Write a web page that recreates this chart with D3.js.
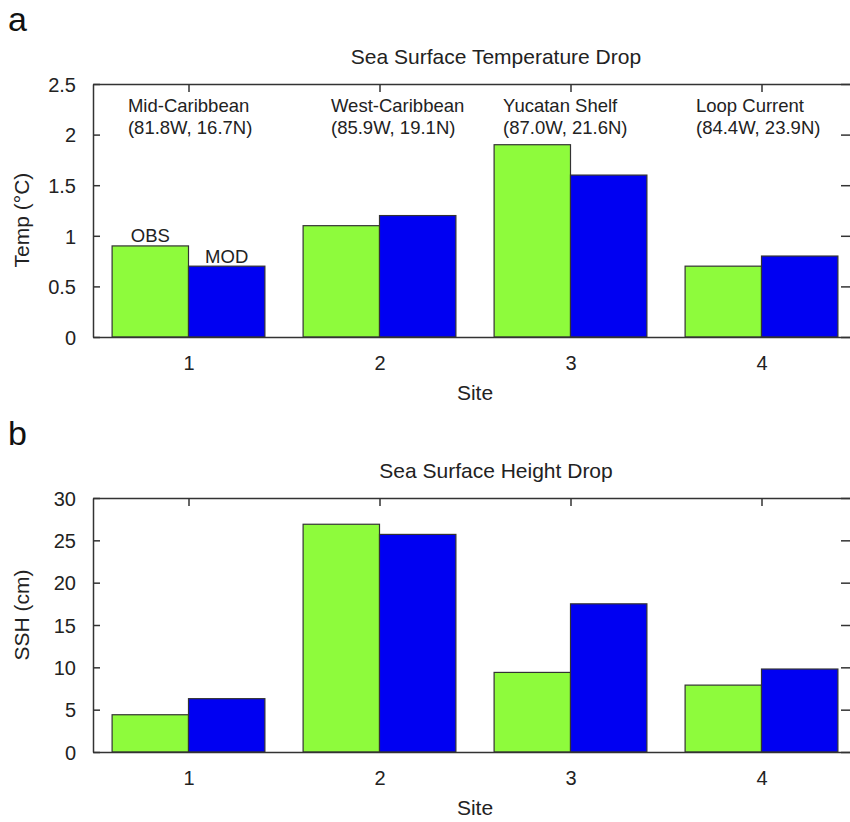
<!DOCTYPE html>
<html>
<head>
<meta charset="utf-8">
<script src="https://cdn.jsdelivr.net/npm/d3@7"></script>
<style>
  body { margin: 0; background: #fff; }
  svg { font-family: "Liberation Sans", Arial, Helvetica, sans-serif; }
  .axis path, .axis line { stroke: #333; stroke-width: 1.5; }
  .axis text { font-size: 20px; fill: #222; }
  .bar { stroke: #333; stroke-width: 1.2; }
</style>
</head>
<body>
<div id="chart"></div>
<script>
// sites on the x axis
let sites = [1, 2, 3, 4];
let siteNames = ["Mid-Caribbean", "West-Caribbean", "Yucatan Shelf", "Loop Current"];
let siteCoords = ["(81.8W, 16.7N)", "(85.9W, 19.1N)", "(87.0W, 21.6N)", "(84.4W, 23.9N)"];

// panel a: sea surface temperature drop (deg C)
let tempObs = [0.9, 1.1, 1.9, 0.7];
let tempMod = [0.7, 1.2, 1.6, 0.8];
let tempTicks = [0, 0.5, 1, 1.5, 2, 2.5];

// panel b: sea surface height drop (cm)
let sshObs = [4.4, 26.9, 9.4, 7.9];
let sshMod = [6.3, 25.7, 17.5, 9.8];
let sshTicks = [0, 5, 10, 15, 20, 25, 30];

let obsColor = "#8efb3c",
  modColor = "#0000f2";

let svg = d3.select("#chart").append("svg")
  .attr("width", 850)
  .attr("height", 822);

let x = d3.scaleLinear()
  .domain([0.5, 4.5])
  .range([93, 857]);

let barW = 0.4;

function drawPanel(opts) {
  let y = d3.scaleLinear()
    .domain([opts.ticks[0], opts.ticks[opts.ticks.length - 1]])
    .range([opts.bottom, opts.top]);

  let g = svg.append("g");

  // panel letter
  g.append("text")
    .attr("x", 8)
    .attr("y", opts.top - 53)
    .style("font-size", "34px")
    .style("fill", "#111")
    .text(opts.letter);

  // title
  g.append("text")
    .attr("x", 496)
    .attr("y", opts.top - 20)
    .attr("text-anchor", "middle")
    .style("font-size", "21px")
    .style("fill", "#222")
    .text(opts.title);

  let data = sites.map((s, i) => ({site: s, obs: opts.obs[i], mod: opts.mod[i]}));

  g.selectAll(".bar-obs")
    .data(data)
    .enter().append("rect")
      .attr("class", "bar bar-obs")
      .attr("x", d => x(d.site - barW))
      .attr("y", d => y(d.obs))
      .attr("width", x(barW) - x(0))
      .attr("height", d => y(0) - y(d.obs))
      .attr("fill", obsColor);

  g.selectAll(".bar-mod")
    .data(data)
    .enter().append("rect")
      .attr("class", "bar bar-mod")
      .attr("x", d => x(d.site))
      .attr("y", d => y(d.mod))
      .attr("width", x(barW) - x(0))
      .attr("height", d => y(0) - y(d.mod))
      .attr("fill", modColor);

  // left axis, ticks inward
  g.append("g")
    .attr("class", "axis")
    .attr("transform", `translate(${x(0.5)}, 0)`)
    .call(d3.axisLeft(y).tickValues(opts.ticks).tickFormat(d3.format("~g"))
      .tickSizeInner(-7).tickSizeOuter(0).tickPadding(17))
    .selectAll("text").attr("dy", "0.36em");

  // right axis (edge of the frame is just off the picture)
  g.append("g")
    .attr("class", "axis")
    .attr("transform", `translate(${x(4.5)}, 0)`)
    .call(d3.axisRight(y).tickValues(opts.ticks).tickFormat("")
      .tickSizeInner(-16).tickSizeOuter(0));

  // top axis, ticks inward at each site
  g.append("g")
    .attr("class", "axis")
    .attr("transform", `translate(0, ${opts.top})`)
    .call(d3.axisTop(x).tickValues(sites).tickFormat("")
      .tickSizeInner(-8).tickSizeOuter(0));

  // bottom axis
  g.append("g")
    .attr("class", "axis")
    .attr("transform", `translate(0, ${opts.bottom})`)
    .call(d3.axisBottom(x).tickValues(sites).tickFormat(d3.format("d"))
      .tickSizeInner(0).tickSizeOuter(0).tickPadding(19));

  // axis titles
  g.append("text")
    .attr("x", 475)
    .attr("y", opts.bottom + 63)
    .attr("text-anchor", "middle")
    .style("font-size", "21px")
    .style("fill", "#222")
    .text("Site");

  g.append("text")
    .attr("transform", `translate(29, ${opts.labelY}) rotate(-90)`)
    .attr("text-anchor", "middle")
    .style("font-size", "21px")
    .style("fill", "#222")
    .text(opts.yLabel);

  return {g: g, y: y};
}

let pa = drawPanel({
  letter: "a", title: "Sea Surface Temperature Drop", yLabel: "Temp (\u00B0C)",
  top: 84, bottom: 337, labelY: 220, ticks: tempTicks, obs: tempObs, mod: tempMod
});

let pb = drawPanel({
  letter: "b", title: "Sea Surface Height Drop", yLabel: "SSH (cm)",
  top: 498, bottom: 752, labelY: 615, ticks: sshTicks, obs: sshObs, mod: sshMod
});

// site annotations in panel a
let labelStart = [0.683, 1.746, 2.647, 3.657];

pa.g.selectAll(".site-name")
  .data(siteNames)
  .enter().append("text")
    .attr("x", (d, i) => x(labelStart[i]))
    .attr("y", 112)
    .style("font-size", "18.5px")
    .style("fill", "#222")
    .text(d => d);

pa.g.selectAll(".site-coord")
  .data(siteCoords)
  .enter().append("text")
    .attr("x", (d, i) => x(labelStart[i]))
    .attr("y", 134)
    .style("font-size", "18.5px")
    .style("fill", "#222")
    .text(d => d);

// OBS / MOD labels over site 1
pa.g.append("text")
  .attr("x", x(sites[0] - barW / 2))
  .attr("y", pa.y(tempObs[0]) - 4)
  .attr("text-anchor", "middle")
  .style("font-size", "18.5px")
  .style("fill", "#222")
  .text("OBS");

pa.g.append("text")
  .attr("x", x(sites[0] + barW / 2))
  .attr("y", pa.y(tempMod[0]) - 3)
  .attr("text-anchor", "middle")
  .style("font-size", "18.5px")
  .style("fill", "#222")
  .text("MOD");
</script>
</body>
</html>
